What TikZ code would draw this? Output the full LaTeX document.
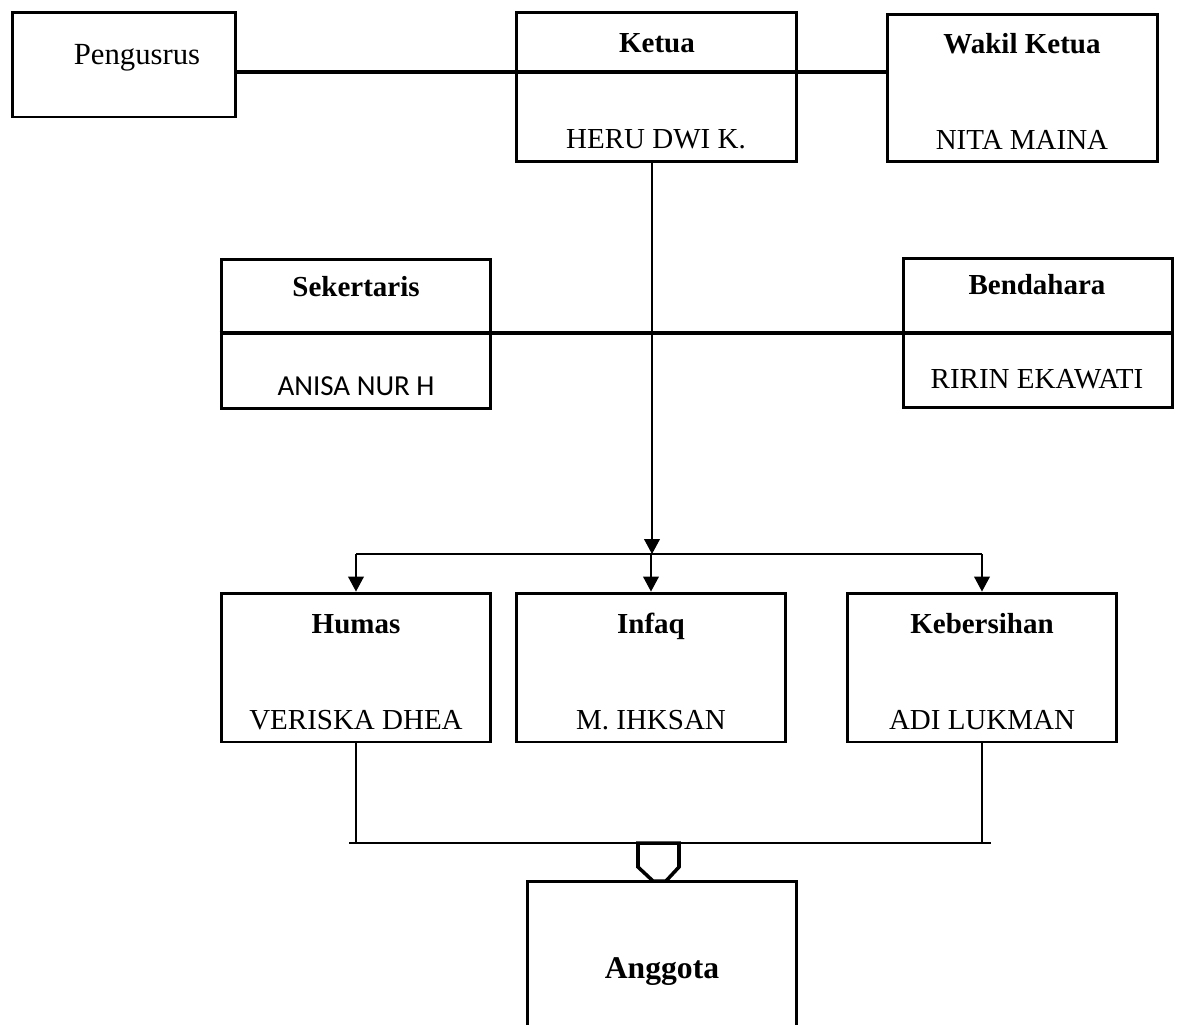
\documentclass[tikz,border=0pt]{standalone}
\usepackage{fontspec}
\setmainfont{Liberation Serif}
\newfontfamily\calibrifont{Carlito}
\usetikzlibrary{arrows.meta}

\tikzset{
	orgbox/.style = {draw, line width=1.7pt, inner sep=0pt, minimum width=5.4cm, minimum height=3cm},
	jabatan/.style = {anchor=base, inner sep=0pt, font=\fontsize{16.5}{19}\selectfont\bfseries},
	nama/.style = {anchor=base, inner sep=0pt, font=\fontsize{16.5}{19}\selectfont},
	garis/.style = {line width=2pt},
	tipis/.style = {line width=0.6pt},
	panah/.style = {line width=0.6pt, -{Triangle[length=8.5pt, width=9pt]}}
}

\begin{document}
\begin{tikzpicture}[x=0.02cm, y=-0.02cm]
		\useasboundingbox ( 0, 0 ) rectangle ( 1181, 1025 );
		\clip ( 0, 0 ) rectangle ( 1181, 1025 );

		% baris atas
		\node [orgbox, minimum width=4.48cm, minimum height=2.1cm] (peng) at ( 124, 64.5 ) {};
		\node [orgbox, minimum width=5.62cm] (ketua) at ( 656.5, 87 ) {};
		\node [orgbox, minimum width=5.42cm, minimum height=2.96cm] (wakil) at ( 1022.5, 88 ) {};
		\node [nama, font=\fontsize{17.5}{20}\selectfont] (t-peng) at ( 137, 64 ) {Pengusrus};
		\node [jabatan] (t-ketua) at ( 657, 52 ) {Ketua};
		\node [nama] (n-ketua) at ( 656, 148 ) {HERU DWI K.};
		\node [jabatan] (t-wakil) at ( 1022, 53 ) {Wakil Ketua};
		\node [nama] (n-wakil) at ( 1022, 149 ) {NITA MAINA};
		\coordinate (kline) at ( 656.5, 72 );
		\draw [garis] (peng.east |- kline) -- (wakil.west |- kline);

		% sekertaris dan bendahara
		\node [orgbox] (sek) at ( 356, 334 ) {};
		\node [orgbox] (bend) at ( 1038, 333 ) {};
		\node [jabatan] (t-sek) at ( 356, 296 ) {Sekertaris};
		\node [nama, font=\fontsize{16.5}{19}\selectfont\calibrifont] (n-sek) at ( 356, 395 ) {ANISA NUR H};
		\node [jabatan] (t-bend) at ( 1037, 294 ) {Bendahara};
		\node [nama] (n-bend) at ( 1037, 388 ) {RIRIN EKAWATI};
		\coordinate (sline) at ( 656, 333 );
		\draw [garis] (sek.west |- sline) -- (bend.east |- sline);

		% seksi
		\node [orgbox, minimum height=2.98cm] (humas) at ( 356, 667.5 ) {};
		\node [orgbox, minimum height=2.98cm] (infaq) at ( 651, 667.5 ) {};
		\node [orgbox, minimum height=2.98cm] (keb) at ( 982, 667.5 ) {};
		\node [jabatan] (t-humas) at ( 356, 633 ) {Humas};
		\node [nama] (n-humas) at ( 356, 729 ) {VERISKA DHEA};
		\node [jabatan] (t-infaq) at ( 651, 633 ) {Infaq};
		\node [nama] (n-infaq) at ( 651, 729 ) {M. IHKSAN};
		\node [jabatan] (t-keb) at ( 982, 633 ) {Kebersihan};
		\node [nama] (n-keb) at ( 982, 729 ) {ADI LUKMAN};

		% ketua ke seksi
		\coordinate (cabang) at ( 652, 554 );
		\draw [panah] (ketua.south -| cabang) -- (cabang);
		\draw [line width=1.6pt] (humas.north |- cabang) -- (keb.north |- cabang);
		\draw [panah] (humas.north |- cabang) -- (humas.north);
		\draw [panah] (infaq.north |- cabang) -- (infaq.north);
		\draw [panah] (keb.north |- cabang) -- (keb.north);

		% anggota
		\node [orgbox, minimum height=4cm] (angg) at ( 662, 981 ) {};
		\node [jabatan, font=\fontsize{18}{21}\selectfont\bfseries] (t-angg) at ( 662, 978 ) {Anggota};
		\coordinate (barkiri) at ( 349, 843 );
		\coordinate (barkanan) at ( 991, 843 );
		\draw [tipis] (humas.south) -- (humas.south |- barkiri);
		\draw [tipis] (keb.south) -- (keb.south |- barkanan);
		\draw [line width=1.6pt] (barkiri) -- (barkanan);
		\draw [garis] ( 638, 843 ) -- ( 638, 867 ) -- ( 653, 881 ) -- ( 666, 881 ) -- ( 679, 867 ) -- ( 679, 843 ) -- cycle;
	\end{tikzpicture}
\end{document}
